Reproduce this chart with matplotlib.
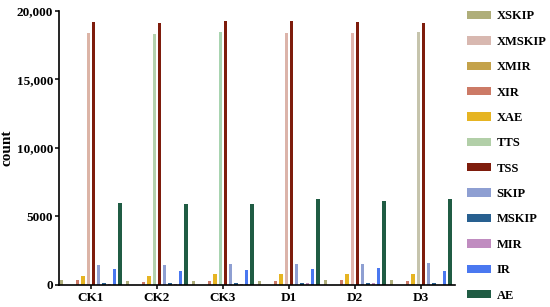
#!/usr/bin/env python
# -*- coding: utf-8 -*-
"""Grouped bar chart of event counts per sample"""

import numpy as np
import matplotlib as mpl
mpl.use("Agg")
import matplotlib.pyplot as plt
from matplotlib.patches import Patch

# data
groups = ["CK1", "CK2", "CK3", "D1", "D2", "D3"]
series = ["XSKIP", "XMSKIP", "XMIR", "XIR", "XAE", "TTS",
          "TSS", "SKIP", "MSKIP", "MIR", "IR", "AE"]

xskip = [350, 320, 320, 320, 380, 380]
xmskip = [0, 0, 0, 0, 0, 0]
xmir = [0, 0, 0, 0, 0, 0]
xir = [350, 250, 300, 300, 380, 300]
xae = [680, 620, 780, 800, 780, 780]
tts = [18370, 18300, 18450, 18400, 18400, 18450]
tss = [19200, 19150, 19290, 19250, 19220, 19150]
skip = [1460, 1470, 1530, 1510, 1530, 1580]
mskip = [150, 150, 150, 150, 150, 150]
mir = [100, 100, 100, 120, 120, 0]
ir = [1150, 1000, 1100, 1170, 1220, 1020]
ae = [5960, 5890, 5910, 6280, 6110, 6250]

values = [xskip, xmskip, xmir, xir, xae, tts, tss, skip, mskip, mir, ir, ae]

ytick_vals = [0, 5000, 10000, 15000, 20000]
ytick_labels = ["0", "5000", "10,000", "15,000", "20,000"]

# styles
colors = ["#afae7a", "#d8b8b0", "#c4a24a", "#cc7a66", "#e6b422", "#b2cfa8",
          "#7e1c0c", "#8e9fd2", "#286090", "#c08cc0", "#4a78f0", "#205c44"]
# the tall TTS column is tinted differently in each group
tts_colors = ["#dcb4a6", "#b4d2ae", "#a8d4b0", "#dcb4aa", "#e2b6ae", "#c6c4ac"]

FONT = "Liberation Serif"
SLOT = 0.0803
BAR_W = 0.05

fig = plt.figure(figsize=(5.5, 3.07), dpi=100)
ax = fig.add_axes([0.107, 0.0717, 0.72, 0.8925])

x = np.arange(len(groups))
nser = len(series)
for j in range(nser):
    pos = x + (j - (nser - 1) / 2.0) * SLOT
    c = tts_colors if series[j] == "TTS" else colors[j]
    ax.bar(pos, values[j], width=BAR_W, color=c, linewidth=0)

ax.set_xlim(-0.485, 5.515)
ax.set_ylim(0, 20000)
ax.set_xticks(x)
ax.set_xticklabels(groups, fontfamily=FONT, fontweight="bold", fontsize=9.5)
ax.set_yticks(ytick_vals)
ax.set_yticklabels(ytick_labels, fontfamily=FONT, fontweight="bold", fontsize=9.5)
ax.set_ylabel("count", fontfamily=FONT, fontweight="bold", fontsize=11)
ax.yaxis.set_label_coords(-0.115, 0.5)

for s in ["top", "right"]:
    ax.spines[s].set_visible(False)
for s in ["left", "bottom"]:
    ax.spines[s].set_linewidth(1.2)
ax.tick_params(axis="y", length=3, width=1.1, pad=1)
ax.tick_params(axis="x", length=3, width=1.1, pad=2)

handles = [Patch(facecolor=colors[j], edgecolor="none") for j in range(nser)]
fig.legend(handles, series, loc="center left", bbox_to_anchor=(0.838, 0.492),
           frameon=False, borderpad=0, handlelength=1.9, handleheight=0.65,
           handletextpad=0.45, labelspacing=1.07,
           prop={"family": FONT, "weight": "bold", "size": 9})

fig.savefig("out.png", dpi=100)
